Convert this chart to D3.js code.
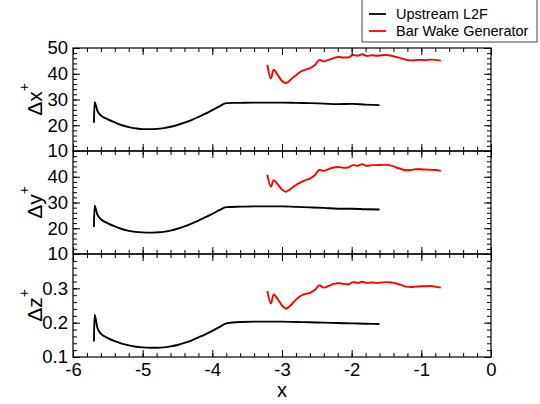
<!DOCTYPE html>
<html>
<head>
<meta charset="utf-8">
<script src="https://cdn.jsdelivr.net/npm/d3@7"></script>
<style>
  html, body { margin: 0; padding: 0; background: #fff; }
  svg { display: block; font-family: "Liberation Sans", Arial, Helvetica, sans-serif; }
</style>
</head>
<body>
<svg id="chart" width="540" height="404"></svg>
<script>
// Streamwise position of the samples
const xTickValues = [-6, -5, -4, -3, -2, -1, 0];

// Upstream L2F: grid spacing in wall units
const l2fX  = [-5.70, -5.69, -5.65, -5.60, -5.50, -5.40, -5.30, -5.20, -5.10, -5.00, -4.90, -4.80, -4.70,
               -4.60, -4.50, -4.40, -4.30, -4.20, -4.10, -4.00, -3.90, -3.80, -3.60, -3.40, -3.20, -3.00,
               -2.80, -2.60, -2.40, -2.20, -2.00, -1.80, -1.60];
const l2fDx = [21.0, 29.0, 25.6, 23.8, 22.3, 21.1, 20.0, 19.3, 18.8, 18.5, 18.5, 18.6, 18.9,
               19.4, 20.1, 21.0, 22.0, 23.2, 24.5, 25.9, 27.3, 28.6, 28.7, 28.8, 28.8, 28.8,
               28.7, 28.6, 28.4, 28.2, 28.3, 28.0, 27.8];
const l2fDy = [20.5, 28.8, 25.3, 23.5, 21.9, 20.7, 19.7, 19.0, 18.6, 18.4, 18.3, 18.4, 18.6,
               19.1, 19.8, 20.7, 21.8, 23.0, 24.3, 25.6, 27.0, 28.2, 28.4, 28.5, 28.5, 28.5,
               28.3, 28.1, 27.9, 27.6, 27.6, 27.4, 27.3];
const l2fDz = [0.145, 0.223, 0.185, 0.168, 0.155, 0.146, 0.139, 0.134, 0.130, 0.128, 0.127, 0.127, 0.128,
               0.131, 0.135, 0.141, 0.148, 0.157, 0.166, 0.176, 0.187, 0.198, 0.202, 0.203, 0.203, 0.203,
               0.202, 0.201, 0.200, 0.199, 0.198, 0.197, 0.196];

// Bar wake generator: grid spacing in wall units
const bwgX  = [-3.21, -3.16, -3.12, -3.06, -3.00, -2.94, -2.88, -2.81, -2.74, -2.67, -2.60, -2.53, -2.46,
               -2.40, -2.33, -2.26, -2.19, -2.12, -2.05, -1.98, -1.91, -1.85, -1.78, -1.71, -1.64, -1.57,
               -1.50, -1.43, -1.36, -1.29, -1.22, -1.15, -1.08, -1.01, -0.94, -0.87, -0.80, -0.72];
const bwgDx = [43.5, 38.2, 41.6, 39.5, 37.2, 36.4, 37.6, 39.2, 40.7, 41.5, 42.2, 43.3, 45.4,
               44.8, 45.4, 46.1, 46.5, 46.3, 46.3, 47.3, 47.0, 47.6, 46.9, 47.2, 47.0, 47.2,
               47.3, 47.0, 46.5, 46.0, 45.4, 45.2, 45.3, 45.4, 45.3, 45.5, 45.4, 45.1];
const bwgDy = [40.8, 36.1, 38.7, 37.0, 35.0, 34.2, 35.2, 36.6, 37.7, 38.6, 39.3, 40.6, 42.7,
               42.3, 43.0, 43.6, 43.8, 43.5, 43.6, 44.5, 44.3, 44.9, 44.2, 44.5, 44.5, 44.6,
               44.6, 44.3, 43.6, 43.0, 42.5, 42.6, 42.9, 42.9, 42.8, 42.7, 42.6, 42.3];
const bwgDz = [0.292, 0.256, 0.282, 0.268, 0.250, 0.241, 0.250, 0.265, 0.277, 0.283, 0.287, 0.295, 0.309,
               0.302, 0.307, 0.313, 0.315, 0.313, 0.312, 0.318, 0.316, 0.319, 0.316, 0.317, 0.316, 0.317,
               0.318, 0.317, 0.314, 0.310, 0.305, 0.304, 0.305, 0.306, 0.306, 0.307, 0.305, 0.302];

// Per-panel axis settings
const panelNames    = ["x", "y", "z"];
const panelDomains  = [[10, 50], [10, 50], [0.1, 0.4]];
const panelMajor    = [[10, 20, 30, 40, 50], [10, 20, 30, 40], [0.1, 0.2, 0.3]];
const panelMinorStep = [2, 2, 0.02];
const panelFormats  = ["d", "d", ".1f"];
const seriesNames   = ["Upstream L2F", "Bar Wake Generator"];
const seriesColors  = ["#000000", "#ff0000"];

const l2fSeries = [l2fDx, l2fDy, l2fDz];
const bwgSeries = [bwgDx, bwgDy, bwgDz];

const svg = d3.select("#chart");
const plotLeft = 73, plotRight = 491, plotTop = 48, panelH = 103;
const majorLen = 7, minorLen = 4;

const x = d3.scaleLinear().domain([-6, 0]).range([plotLeft, plotRight]);
const xMinor = d3.range(-6, 0.0001, 0.2).map(v => +v.toFixed(2));

const line = (xs, ys, y) => d3.line()
  .x((d, i) => x(xs[i]))
  .y(d => y(d))
  .curve(d3.curveMonotoneX)(ys);

panelNames.forEach((name, p) => {
  const y0 = plotTop + p * panelH, y1 = y0 + panelH;
  const y = d3.scaleLinear().domain(panelDomains[p]).range([y1, y0]);
  const [lo, hi] = panelDomains[p];
  const yMinor = d3.range(lo, hi + 1e-9, panelMinorStep[p]).map(v => +v.toFixed(4));
  const g = svg.append("g");

  // curves
  g.append("path").attr("d", line(l2fX, l2fSeries[p], y))
    .attr("fill", "none").attr("stroke", seriesColors[0]).attr("stroke-width", 1.9)
    .attr("stroke-linejoin", "round");
  g.append("path").attr("d", line(bwgX, bwgSeries[p], y))
    .attr("fill", "none").attr("stroke", seriesColors[1]).attr("stroke-width", 1.9)
    .attr("stroke-linejoin", "round");

  // y axes (left with labels, right mirrored)
  const fmt = d3.format(panelFormats[p]);
  const addAxis = (axis, tx, ty) => {
    const a = g.append("g").attr("transform", `translate(${tx},${ty})`).call(axis);
    a.select(".domain").remove();
    a.selectAll("line").attr("stroke", "#000");
    return a;
  };
  const yl = addAxis(d3.axisLeft(y).tickValues(panelMajor[p]).tickSize(-majorLen).tickPadding(5).tickFormat(fmt), plotLeft, 0);
  yl.selectAll("text").attr("font-size", 18.5).attr("fill", "#000")
    .attr("font-family", "'Liberation Sans', Arial, sans-serif");
  addAxis(d3.axisLeft(y).tickValues(yMinor).tickSize(-minorLen).tickFormat(""), plotLeft, 0);
  addAxis(d3.axisRight(y).tickValues(panelMajor[p]).tickSize(-majorLen).tickFormat(""), plotRight, 0);
  addAxis(d3.axisRight(y).tickValues(yMinor).tickSize(-minorLen).tickFormat(""), plotRight, 0);

  // x ticks on top and bottom of every panel
  addAxis(d3.axisTop(x).tickValues(xTickValues).tickSize(-majorLen).tickFormat(""), 0, y0);
  addAxis(d3.axisTop(x).tickValues(xMinor).tickSize(-minorLen).tickFormat(""), 0, y0);
  const xb = addAxis(d3.axisBottom(x).tickValues(xTickValues).tickSize(-majorLen).tickPadding(6)
    .tickFormat(p === 2 ? (d => String(d)) : ""), 0, y1);
  xb.selectAll("text").attr("font-size", 18.5).attr("fill", "#000")
    .attr("font-family", "'Liberation Sans', Arial, sans-serif");
  addAxis(d3.axisBottom(x).tickValues(xMinor).tickSize(-minorLen).tickFormat(""), 0, y1);

  // frame
  g.append("rect").attr("x", plotLeft).attr("y", y0).attr("width", plotRight - plotLeft).attr("height", panelH)
    .attr("fill", "none").attr("stroke", "#000").attr("stroke-width", 1.2);

  // y label: Δx⁺, Δy⁺, Δz⁺
  const lab = g.append("text")
    .attr("transform", `translate(42,${(y0 + y1) / 2}) rotate(-90)`)
    .attr("text-anchor", "middle").attr("font-size", 21).attr("fill", "#000");
  lab.append("tspan").text("Δ" + name);
  lab.append("tspan").text("+").attr("font-size", 14).attr("dy", -13);
});

// x axis title
svg.append("text").attr("x", (plotLeft + plotRight) / 2).attr("y", 397)
  .attr("text-anchor", "middle").attr("font-size", 20).attr("fill", "#000").text("x");

// legend
const lg = svg.append("g");
lg.append("rect").attr("x", 362).attr("y", -2).attr("width", 175).attr("height", 44)
  .attr("fill", "#fff").attr("stroke", "#444").attr("stroke-width", 1);
seriesNames.forEach((s, i) => {
  const ly = 14 + i * 17;
  lg.append("line").attr("x1", 369).attr("x2", 386).attr("y1", ly).attr("y2", ly)
    .attr("stroke", seriesColors[i]).attr("stroke-width", 1.8);
  lg.append("text").attr("x", 396).attr("y", ly + 5).attr("font-size", 14.5)
    .attr("fill", "#000").text(s);
});
</script>
</body>
</html>
